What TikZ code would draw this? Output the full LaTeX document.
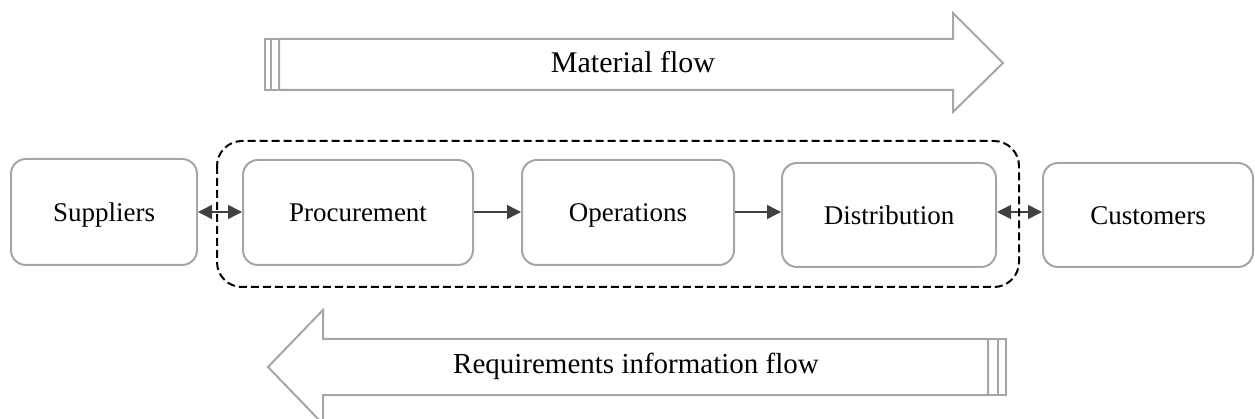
\documentclass[tikz,border=0pt]{standalone}
\usepackage{fontspec}
\setmainfont{Liberation Serif}
\usetikzlibrary{arrows.meta,calc}
\definecolor{boxgray}{HTML}{A6A6A6}
\definecolor{arrdark}{HTML}{404040}
\tikzset{
  stage/.style={draw=boxgray, line width=2pt, rounded corners=15pt, fill=white, font=\fontsize{27}{32}\selectfont, inner sep=0pt, text height=24pt, text depth=5.9pt},
  link/.style={draw=arrdark, line width=1.5pt, -{Triangle[length=14pt,width=14pt]}},
  dlink/.style={draw=arrdark, line width=1.5pt, {Triangle[length=14pt,width=14pt]}-{Triangle[length=14pt,width=14pt]}},
  bigarrow/.style={draw=boxgray, line width=2pt, line join=miter, fill=white},
  scopebox/.style={draw=black, line width=2pt, dash pattern=on 8pt off 4pt, rounded corners=25pt},
  flowlabel/.style={font=\fontsize{29}{34}\selectfont, inner sep=0pt}
}
\begin{document}
\begin{tikzpicture}[x=1pt,y=-1pt]
\useasboundingbox (0,0) rectangle (1255,419);
% material flow arrow
\draw[bigarrow] (265,39) rectangle (271,90);
\draw[bigarrow] (271,39) rectangle (279,90);
\draw[bigarrow] (279,39) -- (953,39) -- (953,13) -- (1003,63) -- (953,112) -- (953,90) -- (279,90) -- cycle;
\node[flowlabel, font=\fontsize{30}{35}\selectfont] (mat) at (633,62) {Material flow};
% requirements arrow
\draw[bigarrow] (988,339) rectangle (998,395);
\draw[bigarrow] (998,339) rectangle (1006,395);
\draw[bigarrow] (988,339) -- (323,339) -- (323,310) -- (268,367) -- (323,424) -- (323,395) -- (988,395) -- cycle;
\node[flowlabel] (req) at (636,366) {Requirements information flow};
% stages
\node[stage, minimum width=186pt, minimum height=106pt] (sup) at (104,212) {Suppliers};
\node[stage, minimum width=230pt, minimum height=105pt] (pro) at (358,212.5) {Procurement};
\node[stage, minimum width=212pt, minimum height=105pt] (ops) at (628,212.5) {Operations};
\node[stage, minimum width=214pt, minimum height=104pt] (dis) at (889,215) {Distribution};
\node[stage, minimum width=210pt, minimum height=104pt] (cus) at (1148,215) {Customers};
% connectors
\draw[dlink] (sup.east |- 0,212) -- (pro.west |- 0,212);
\draw[link] (pro.east |- 0,212) -- (ops.west |- 0,212);
\draw[link] (ops.east |- 0,212) -- (dis.west |- 0,212);
\draw[dlink] (dis.east |- 0,212) -- (cus.west |- 0,212);
% scope
\coordinate (sc1) at (217,141);
\coordinate (sc2) at (1019,287);
\draw[scopebox] (sc1) rectangle (sc2);
\end{tikzpicture}
\end{document}
